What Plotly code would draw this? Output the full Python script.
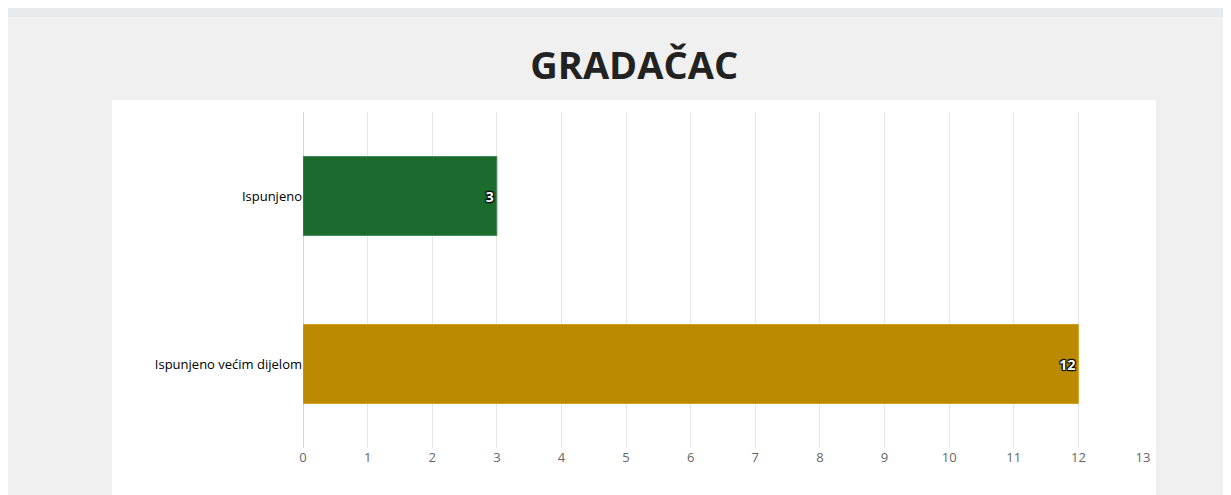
import plotly.graph_objects as go

categories = ["Ispunjeno", "Ispunjeno većim dijelom"]
values = [3, 12]
colors = ["#1b6b2f", "#bb8a00"]
line_colors = ["#4a8a5a", "#d4a020"]

fig = go.Figure(go.Bar(
    y=categories, x=values, orientation="h",
    marker=dict(color=colors, line=dict(color=line_colors, width=1)),
    width=0.47,
    text=values, textposition="inside", insidetextanchor="end",
    textfont=dict(family="Open Sans", size=14, color="white", weight="bold",
                  shadow="1px 1px 1px #000, -1px -1px 1px #000, 1px -1px 1px #000, -1px 1px 1px #000"),
    hoverinfo="x+y",
))

fig.update_layout(
    width=1231, height=495,
    margin=dict(l=295, r=96, t=104, b=55),
    paper_bgcolor="#f0f0f0", plot_bgcolor="white",
    showlegend=False,
    title=dict(text="<b>GRADAČAC</b>", x=0.5087, xref="container", xanchor="center",
               y=1 - 58/495, yref="container", yanchor="middle",
               font=dict(family="Open Sans", size=38, color="#222")),
    xaxis=dict(range=[0, 13], dtick=1, showgrid=True, gridcolor="#e6e6e6", gridwidth=1,
               zeroline=True, zerolinecolor="#ccd6eb", zerolinewidth=1,
               tickfont=dict(family="Open Sans", size=13, color="#666"), ticks="", ticklen=0),
    yaxis=dict(categoryorder="array", categoryarray=categories[::-1], range=[-0.5, 1.5],
               tickfont=dict(family="Open Sans", size=13, color="#000"), ticks="", ticklen=5,
               showgrid=False),
    shapes=[
        dict(type="rect", xref="paper", yref="paper", x0=-0.2274, x1=1.0155, y0=-0.1488, y1=1.0357,
             fillcolor="white", line=dict(width=0), layer="below"),
        dict(type="rect", xref="paper", yref="paper", x0=-0.36, x1=1.12, y0=1.2827, y1=1.32,
             fillcolor="#e8ebee", line=dict(width=0), layer="below"),
    ],
)
fig.write_html("out.html")
